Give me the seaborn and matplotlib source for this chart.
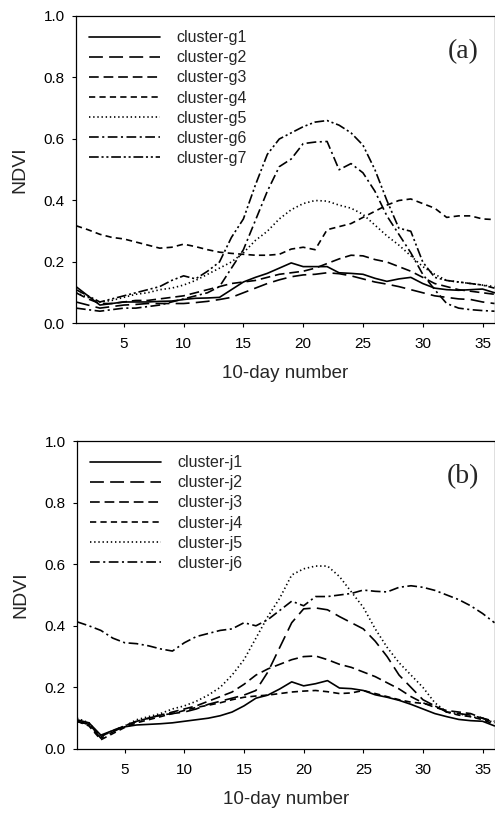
import numpy as np
import pandas as pd
import seaborn as sns
import matplotlib
matplotlib.use("Agg")
import matplotlib.pyplot as plt

# ---------------- data ----------------
ten_day = list(range(1, 37))

g_labels = ["cluster-g1", "cluster-g2", "cluster-g3", "cluster-g4",
            "cluster-g5", "cluster-g6", "cluster-g7"]
g1 = [0.12, 0.09, 0.06, 0.065, 0.07, 0.07, 0.07, 0.072, 0.073, 0.078, 0.082, 0.083,
      0.085, 0.11, 0.135, 0.15, 0.163, 0.18, 0.197, 0.185, 0.185, 0.185, 0.165, 0.163,
      0.16, 0.147, 0.137, 0.145, 0.15, 0.13, 0.115, 0.11, 0.108, 0.11, 0.112, 0.10]
g2 = [0.07, 0.06, 0.05, 0.055, 0.06, 0.062, 0.065, 0.065, 0.065, 0.065, 0.068, 0.072,
      0.078, 0.085, 0.10, 0.115, 0.13, 0.142, 0.152, 0.158, 0.16, 0.165, 0.162, 0.155,
      0.145, 0.135, 0.128, 0.12, 0.11, 0.10, 0.09, 0.085, 0.08, 0.078, 0.07, 0.065]
g3 = [0.10, 0.08, 0.065, 0.065, 0.07, 0.075, 0.075, 0.08, 0.085, 0.09, 0.10, 0.11,
      0.12, 0.13, 0.135, 0.14, 0.15, 0.16, 0.165, 0.17, 0.18, 0.195, 0.21, 0.222,
      0.22, 0.208, 0.20, 0.185, 0.17, 0.15, 0.13, 0.12, 0.11, 0.105, 0.10, 0.095]
g4 = [0.318, 0.305, 0.29, 0.28, 0.275, 0.265, 0.255, 0.245, 0.248, 0.258, 0.25, 0.24,
      0.232, 0.228, 0.225, 0.222, 0.222, 0.225, 0.242, 0.248, 0.24, 0.305, 0.315, 0.325,
      0.345, 0.365, 0.385, 0.40, 0.405, 0.39, 0.375, 0.345, 0.35, 0.35, 0.34, 0.338]
g5 = [0.10, 0.085, 0.07, 0.075, 0.085, 0.095, 0.10, 0.11, 0.115, 0.125, 0.14, 0.16,
      0.18, 0.20, 0.23, 0.27, 0.30, 0.34, 0.37, 0.39, 0.40, 0.398, 0.385, 0.375,
      0.355, 0.32, 0.285, 0.255, 0.22, 0.185, 0.16, 0.14, 0.135, 0.13, 0.125, 0.12]
g6 = [0.05, 0.045, 0.04, 0.045, 0.05, 0.05, 0.055, 0.06, 0.07, 0.08, 0.09, 0.10,
      0.12, 0.18, 0.24, 0.335, 0.43, 0.51, 0.535, 0.585, 0.59, 0.592, 0.50, 0.52,
      0.49, 0.43, 0.35, 0.29, 0.23, 0.16, 0.11, 0.065, 0.05, 0.045, 0.042, 0.04]
g7 = [0.11, 0.09, 0.07, 0.08, 0.09, 0.10, 0.11, 0.12, 0.14, 0.155, 0.145, 0.17,
      0.20, 0.28, 0.34, 0.45, 0.55, 0.60, 0.62, 0.64, 0.655, 0.66, 0.645, 0.62,
      0.58, 0.50, 0.40, 0.31, 0.30, 0.20, 0.15, 0.14, 0.135, 0.13, 0.125, 0.115]

j_labels = ["cluster-j1", "cluster-j2", "cluster-j3", "cluster-j4",
            "cluster-j5", "cluster-j6"]
j1 = [0.095, 0.085, 0.045, 0.06, 0.072, 0.078, 0.08, 0.082, 0.085, 0.09, 0.095, 0.10,
      0.108, 0.12, 0.14, 0.165, 0.175, 0.195, 0.218, 0.205, 0.212, 0.222, 0.198, 0.196,
      0.19, 0.176, 0.168, 0.158, 0.145, 0.13, 0.115, 0.105, 0.096, 0.092, 0.09, 0.075]
j2 = [0.09, 0.08, 0.035, 0.055, 0.075, 0.09, 0.10, 0.11, 0.115, 0.12, 0.13, 0.145,
      0.155, 0.165, 0.175, 0.19, 0.25, 0.33, 0.41, 0.455, 0.458, 0.452, 0.43, 0.41,
      0.39, 0.35, 0.30, 0.24, 0.20, 0.16, 0.14, 0.12, 0.115, 0.11, 0.10, 0.085]
j3 = [0.09, 0.08, 0.04, 0.06, 0.075, 0.09, 0.10, 0.11, 0.12, 0.13, 0.14, 0.155,
      0.17, 0.185, 0.21, 0.24, 0.26, 0.275, 0.29, 0.30, 0.302, 0.29, 0.275, 0.265,
      0.25, 0.235, 0.215, 0.195, 0.17, 0.15, 0.135, 0.125, 0.12, 0.115, 0.10, 0.09]
j4 = [0.09, 0.075, 0.03, 0.05, 0.07, 0.085, 0.095, 0.105, 0.115, 0.125, 0.135, 0.142,
      0.15, 0.16, 0.168, 0.172, 0.175, 0.18, 0.185, 0.188, 0.19, 0.186, 0.18, 0.182,
      0.19, 0.18, 0.17, 0.16, 0.152, 0.148, 0.14, 0.12, 0.11, 0.105, 0.095, 0.08]
j5 = [0.10, 0.085, 0.04, 0.06, 0.075, 0.095, 0.105, 0.115, 0.13, 0.14, 0.155, 0.175,
      0.20, 0.24, 0.29, 0.36, 0.43, 0.49, 0.565, 0.585, 0.594, 0.594, 0.56, 0.51,
      0.46, 0.39, 0.33, 0.28, 0.24, 0.20, 0.15, 0.12, 0.115, 0.105, 0.10, 0.085]
j6 = [0.413, 0.40, 0.385, 0.36, 0.345, 0.342, 0.335, 0.325, 0.318, 0.345, 0.365, 0.375,
      0.385, 0.39, 0.41, 0.40, 0.42, 0.45, 0.48, 0.465, 0.495, 0.495, 0.50, 0.505,
      0.516, 0.512, 0.51, 0.525, 0.53, 0.525, 0.515, 0.50, 0.485, 0.465, 0.44, 0.41]

x_ticks = [5, 10, 15, 20, 25, 30, 35]
y_ticks = [0.0, 0.2, 0.4, 0.6, 0.8, 1.0]

# ---------------- style ----------------
sns.set_theme(style="ticks")
plt.rcParams["font.family"] = ["Liberation Sans", "DejaVu Sans"]
plt.rcParams["lines.scale_dashes"] = False

styles = [
    "-",
    (0, (10, 4.5)),
    (0, (7, 3.5)),
    (0, (4.5, 3)),
    (0, (1, 2)),
    (0, (7, 2.5, 1.5, 2.5)),
    (0, (7, 2, 1.5, 2, 1.5, 2)),
]

fig = plt.figure(figsize=(4.95, 8.15), dpi=100)
W, H = 495, 815

def make_axes(left_px, top_px, bottom_px, right_px):
    return fig.add_axes([left_px / W, 1 - bottom_px / H,
                         (right_px - left_px) / W, (bottom_px - top_px) / H])

ax1 = make_axes(76, 16, 323.5, 494.5)
ax2 = make_axes(77, 441, 749, 494.5)

panels = [
    (ax1, [g1, g2, g3, g4, g5, g6, g7], g_labels, "(a)"),
    (ax2, [j1, j2, j3, j4, j5, j6], j_labels, "(b)"),
]

for ax, series, labels, tag in panels:
    for vals, lab, ls in zip(series, labels, styles):
        df = pd.DataFrame({"x": ten_day, "y": vals})
        sns.lineplot(data=df, x="x", y="y", ax=ax, color="black",
                     linewidth=1.2, linestyle=ls, label=lab)
    ax.set_xlim(1, 36)
    ax.set_ylim(0, 1.0)
    ax.set_xticks(x_ticks)
    ax.set_yticks(y_ticks)
    ax.set_yticklabels([f"{v:.1f}" for v in y_ticks])
    ax.tick_params(axis="both", direction="out", length=3, width=0.8,
                   labelsize=11, colors="black", pad=5)
    ax.tick_params(axis="x", pad=7)
    for sp in ax.spines.values():
        sp.set_visible(True)
        sp.set_linewidth(0.9)
        sp.set_color("black")
    ax.set_xlabel("10-day number", fontsize=13.5, labelpad=10)
    ax.set_ylabel("NDVI", fontsize=14, labelpad=11)
    leg = ax.legend(loc="upper left", frameon=False, fontsize=11.5,
                    handlelength=4.4, handletextpad=1.05, labelspacing=0.32,
                    borderaxespad=0.3, bbox_to_anchor=(0.005, 0.99))
    ax.text(0.925, 0.885, tag, transform=ax.transAxes, ha="center", va="center",
            fontsize=20, family=["Liberation Serif", "DejaVu Serif"])

fig.savefig("out.png", dpi=100, facecolor="white")
